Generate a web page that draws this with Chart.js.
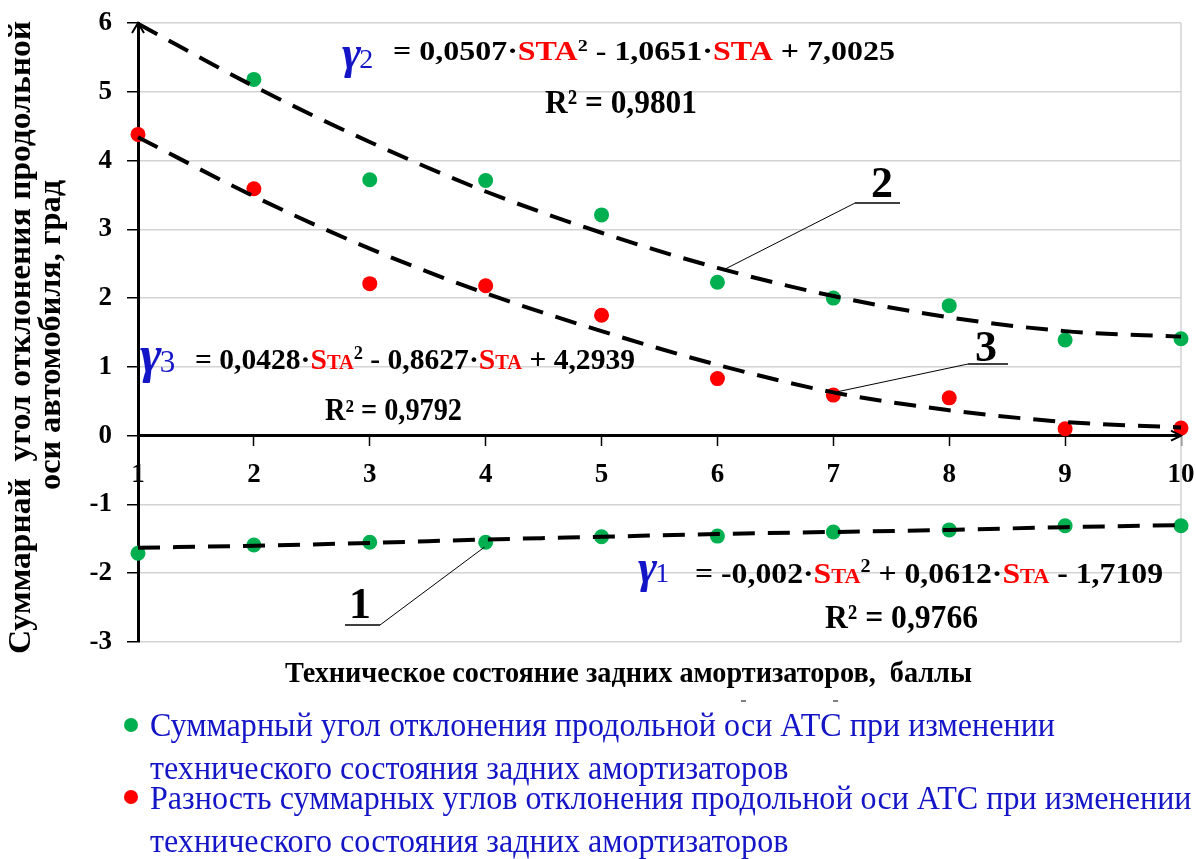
<!DOCTYPE html>
<html>
<head>
<meta charset="utf-8">
<script src="https://cdn.jsdelivr.net/npm/chart.js@4.4.0/dist/chart.umd.min.js"></script>
<style>
  html, body { margin: 0; padding: 0; background: #fff; }
</style>
</head>
<body>
<canvas id="angleChart" width="1196" height="859"></canvas>
<script>
// техническое состояние задних амортизаторов, баллы
const scores = [1, 2, 3, 4, 5, 6, 7, 8, 9, 10];

// суммарный угол (зелёные точки), две ветви
const sumAngleUpper = [null, 5.18, 3.72, 3.71, 3.21, 2.23, 2.0, 1.89, 1.39, 1.41];
const sumAngleLower = [-1.71, -1.59, -1.55, -1.55, -1.47, -1.46, -1.40, -1.37, -1.31, -1.31];
// разность суммарных углов (красные точки)
const angleDiff = [4.38, 3.59, 2.21, 2.18, 1.75, 0.83, 0.59, 0.55, 0.10, 0.11];

// линии тренда
const trend2 = [5.99, 5.08, 4.27, 3.55, 2.95, 2.44, 2.03, 1.72, 1.52, 1.44];
const trend3 = [4.34, 3.48, 2.72, 2.07, 1.52, 1.03, 0.63, 0.37, 0.20, 0.12];
const trend1 = [-1.63, -1.60, -1.56, -1.51, -1.47, -1.43, -1.40, -1.37, -1.33, -1.30];

const legendGreen = ["Суммарный угол отклонения продольной оси АТС при изменении",
                     "технического состояния задних амортизаторов"];
const legendRed = ["Разность суммарных углов отклонения продольной оси АТС при изменении",
                   "технического состояния задних амортизаторов"];
const xTitle = "Техническое состояние задних амортизаторов,  баллы";
const yTitle = ["Суммарнай  угол отклонения продольной", "оси автомобиля, град"];

const SERIF = "'Liberation Serif', 'Times New Roman', serif";
const GREEN = "#00b050";
const RED = "#ff0000";
const BLUE = "#1515c8";

function toXY(ys) {
    return scores.map((x, i) => ({x: x, y: ys[i]})).filter(p => p.y !== null);
}

function trendSet(ys) {
    return {
        type: 'line', data: toXY(ys), borderColor: '#000', borderWidth: 4,
        borderDash: [22, 13], pointRadius: 0, cubicInterpolationMode: 'monotone',
        fill: false, order: 0, clip: false
    };
}

function pointSet(ys, color, label) {
    return {
        type: 'scatter', label: label, data: toXY(ys), backgroundColor: color,
        borderWidth: 0, pointRadius: 7.5, order: 1, clip: false
    };
}

// draw text squeezed/stretched horizontally to a given width
function fitText(ctx, parts, x, y, width) {
    let total = 0;
    parts.forEach(p => { ctx.font = p[1]; total += ctx.measureText(p[0]).width; });
    const k = width / total;
    ctx.save();
    ctx.translate(x, y);
    ctx.scale(k, 1);
    ctx.textAlign = 'left';
    ctx.textBaseline = 'alphabetic';
    let cx = 0;
    parts.forEach(p => {
        ctx.font = p[1];
        ctx.fillStyle = p[2];
        ctx.fillText(p[0], cx, p[3] || 0);
        cx += ctx.measureText(p[0]).width;
    });
    ctx.restore();
}

function gamma(ctx, idx, x, y, size) {
    ctx.save();
    ctx.fillStyle = BLUE;
    ctx.textAlign = 'left';
    ctx.textBaseline = 'alphabetic';
    ctx.font = 'bold italic ' + size + 'px ' + SERIF;
    ctx.fillText('γ', x, y);
    const w = ctx.measureText('γ').width;
    ctx.font = Math.round(size * 0.6) + 'px ' + SERIF;
    ctx.fillText(idx, x + w - 2, y);
    ctx.restore();
}

function callout(ctx, chart, text, tx, ty, ux1, ux2, uy, lx, ly, fromRight) {
    const xs = chart.scales.x, ys = chart.scales.y;
    ctx.save();
    ctx.fillStyle = '#000';
    ctx.font = 'bold 44px ' + SERIF;
    ctx.textAlign = 'center';
    ctx.textBaseline = 'alphabetic';
    ctx.fillText(text, tx, ty);
    ctx.strokeStyle = '#000';
    ctx.lineWidth = 1.5;
    ctx.beginPath();
    ctx.moveTo(ux1, uy);
    ctx.lineTo(ux2, uy);
    ctx.stroke();
    ctx.lineWidth = 1;
    ctx.beginPath();
    ctx.moveTo(fromRight ? ux2 : ux1, uy);
    ctx.lineTo(xs.getPixelForValue(lx), ys.getPixelForValue(ly));
    ctx.stroke();
    ctx.restore();
}

const decorations = {
    id: 'decorations',
    beforeDatasetsDraw(chart) {
        const ctx = chart.ctx, a = chart.chartArea;
        ctx.save();
        ctx.strokeStyle = '#d3d3d3';
        ctx.lineWidth = 1.5;
        ctx.beginPath();
        ctx.moveTo(a.right, a.top);
        ctx.lineTo(a.right, a.bottom);
        ctx.stroke();
        ctx.restore();
    },
    afterDraw(chart) {
        const ctx = chart.ctx, a = chart.chartArea;
        const y0 = chart.scales.y.getPixelForValue(0);

        // axis arrows
        ctx.save();
        ctx.strokeStyle = '#000';
        ctx.lineWidth = 2;
        ctx.beginPath();
        ctx.moveTo(a.left - 6, a.top + 10);
        ctx.lineTo(a.left, a.top);
        ctx.lineTo(a.left + 6, a.top + 10);
        ctx.moveTo(a.right - 10, y0 - 5);
        ctx.lineTo(a.right, y0);
        ctx.lineTo(a.right - 10, y0 + 5);
        ctx.stroke();
        ctx.restore();

        // equations
        const B = 'bold ', K = '#000';
        gamma(ctx, '2', 342, 68, 46);
        fitText(ctx, [
            ['= 0,0507·', B + '27px ' + SERIF, K],
            ['STA', B + '27px ' + SERIF, RED],
            ['2', B + '17px ' + SERIF, K, -9],
            [' - 1,0651·', B + '27px ' + SERIF, K],
            ['STA', B + '27px ' + SERIF, RED],
            [' + 7,0025', B + '27px ' + SERIF, K]
        ], 393, 60, 502);
        fitText(ctx, [['R² = 0,9801', B + '33px ' + SERIF, K]], 545, 113, 152);

        gamma(ctx, '3', 140, 372, 52);
        fitText(ctx, [
            ['= 0,0428·', B + '29px ' + SERIF, K],
            ['S', B + '29px ' + SERIF, RED],
            ['TA', B + '20px ' + SERIF, RED],
            ['2', B + '18px ' + SERIF, K, -10],
            [' - 0,8627·', B + '29px ' + SERIF, K],
            ['S', B + '29px ' + SERIF, RED],
            ['TA', B + '20px ' + SERIF, RED],
            [' + 4,2939', B + '29px ' + SERIF, K]
        ], 195, 369, 440);
        fitText(ctx, [['R² = 0,9792', B + '31px ' + SERIF, K]], 325, 420, 137);

        gamma(ctx, '1', 638, 582, 46);
        fitText(ctx, [
            ['= -0,002·', B + '30px ' + SERIF, K],
            ['S', B + '30px ' + SERIF, RED],
            ['TA', B + '21px ' + SERIF, RED],
            ['2', B + '19px ' + SERIF, K, -11],
            [' + 0,0612·', B + '30px ' + SERIF, K],
            ['S', B + '30px ' + SERIF, RED],
            ['TA', B + '21px ' + SERIF, RED],
            [' - 1,7109', B + '30px ' + SERIF, K]
        ], 695, 583, 468);
        fitText(ctx, [['R² = 0,9766', B + '33px ' + SERIF, K]], 825, 628, 153);

        // numbered callouts
        callout(ctx, chart, '2', 882, 197, 855, 900, 203, 6.04, 2.40, false);
        callout(ctx, chart, '3', 986, 361, 968, 1008, 364, 7.04, 0.64, false);
        callout(ctx, chart, '1', 360, 618, 345, 380, 625, 3.99, -1.62, true);

        // axis titles
        fitText(ctx, [[xTitle, B + '30px ' + SERIF, K]], 285, 682, 687);
        ctx.save();
        ctx.translate(30, 338);
        ctx.rotate(-Math.PI / 2);
        fitText(ctx, [[yTitle[0], B + '32px ' + SERIF, K]], -316, 0, 633);
        ctx.restore();
        ctx.save();
        ctx.translate(60, 335);
        ctx.rotate(-Math.PI / 2);
        fitText(ctx, [[yTitle[1], B + '32px ' + SERIF, K]], -155, 0, 310);
        ctx.restore();

        // stray marks under the axis title
        ctx.save();
        ctx.strokeStyle = '#000';
        ctx.lineWidth = 1;
        ctx.beginPath();
        ctx.moveTo(741, 701); ctx.lineTo(746, 701);
        ctx.moveTo(833, 701); ctx.lineTo(838, 701);
        ctx.stroke();
        ctx.restore();

        // legend
        const items = [[GREEN, legendGreen, 725, 736], [RED, legendRed, 797, 809]];
        ctx.save();
        ctx.font = '34px ' + SERIF;
        const k = 905 / ctx.measureText(legendGreen[0]).width;
        items.forEach(it => {
            ctx.fillStyle = it[0];
            ctx.beginPath();
            ctx.arc(131, it[2], 7, 0, Math.PI * 2);
            ctx.fill();
            it[1].forEach((line, j) => {
                ctx.font = '34px ' + SERIF;
                const w = ctx.measureText(line).width * k;
                fitText(ctx, [[line, '34px ' + SERIF, BLUE]], 150, it[3] + j * 43, w);
            });
        });
        ctx.restore();
    }
};

const ctx = document.getElementById('angleChart').getContext('2d');
const chart = new Chart(ctx, {
    type: 'scatter',
    data: {
        datasets: [
            trendSet(trend2),
            trendSet(trend3),
            trendSet(trend1),
            pointSet(sumAngleUpper, GREEN, legendGreen.join(' ')),
            pointSet(sumAngleLower, GREEN, legendGreen.join(' ')),
            pointSet(angleDiff, RED, legendRed.join(' '))
        ]
    },
    options: {
        responsive: false,
        animation: false,
        layout: {
            padding: { left: 0, right: 15, top: 23, bottom: 217 }
        },
        plugins: {
            legend: { display: false },
            tooltip: { enabled: false }
        },
        scales: {
            x: {
                type: 'linear',
                position: { y: 0 },
                min: 1,
                max: 10,
                ticks: {
                    stepSize: 1,
                    color: '#000',
                    padding: 14,
                    font: { family: SERIF, size: 27, weight: 'bold' }
                },
                grid: { drawOnChartArea: false, tickLength: 9, tickColor: '#000', tickWidth: 1.5 },
                border: { color: '#000', width: 3 },
                afterFit: function(scale) { scale.paddingLeft = 0; scale.paddingRight = 0; }
            },
            y: {
                min: -3,
                max: 6,
                ticks: {
                    stepSize: 1,
                    color: '#000',
                    padding: 15,
                    font: { family: SERIF, size: 27, weight: 'bold' }
                },
                grid: { color: '#d3d3d3', lineWidth: 1.5, tickLength: 11, tickColor: '#000', tickWidth: 1.5 },
                border: { color: '#000', width: 3 },
                afterFit: function(scale) {
                    scale.width = 138;
                    scale.paddingTop = 0;
                    scale.paddingBottom = 0;
                }
            }
        }
    },
    plugins: [decorations]
});
</script>
</body>
</html>
